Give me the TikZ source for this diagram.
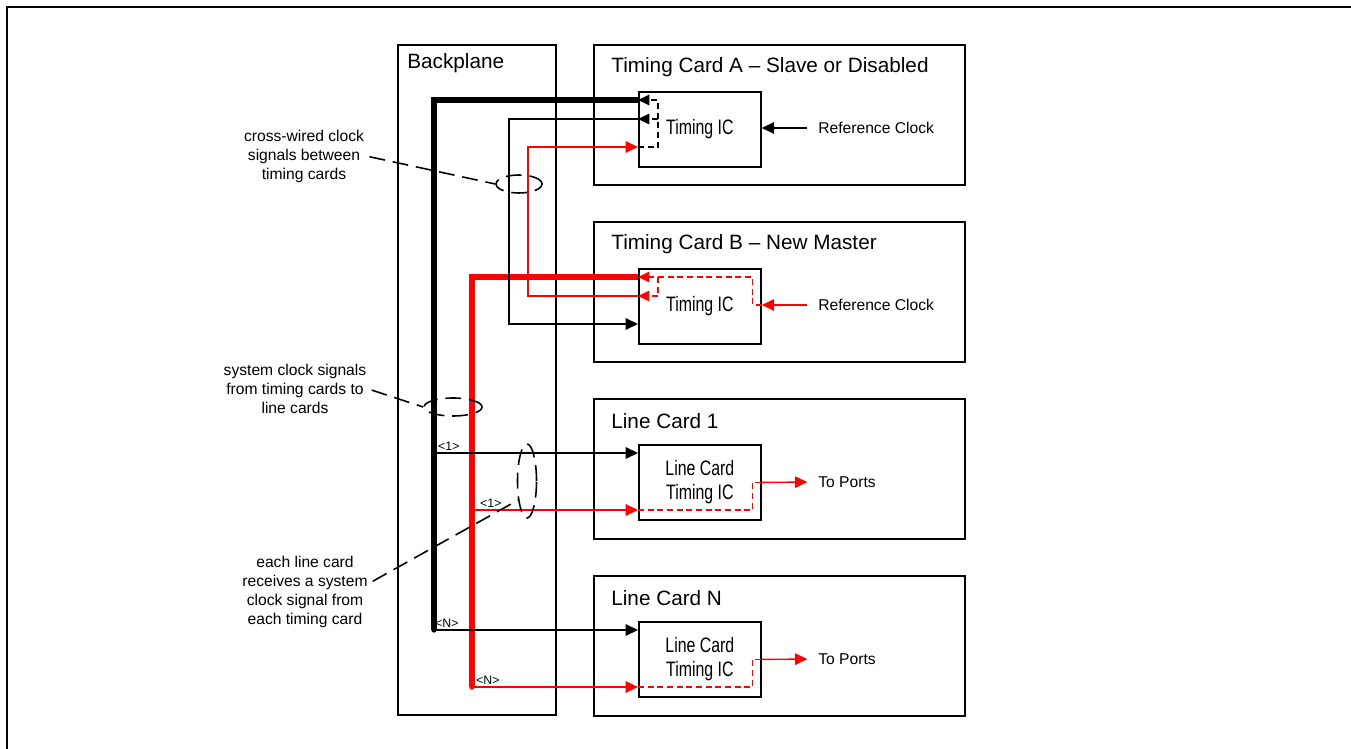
\documentclass[tikz,border=0pt]{standalone}
\usepackage{fontspec}
\setmainfont{Liberation Sans}
\newfontfamily\narrowfont[FakeStretch=0.76]{Liberation Sans}
\usetikzlibrary{arrows.meta,shapes.geometric,calc}

\tikzset{
  card/.style={draw, line width=1pt, anchor=north west, minimum width=7.42cm, minimum height=2.8cm, inner sep=0pt},
  chip/.style={draw, line width=1pt, anchor=north west, minimum width=2.44cm, minimum height=1.5cm,
    align=center, font=\narrowfont\fontsize{11.9}{13.6}\selectfont},
  cardtitle/.style={anchor=west, inner sep=0pt, font=\fontsize{11.8}{14}\selectfont},
  sidetext/.style={anchor=west, inner sep=0pt, font=\fontsize{8.9}{10.8}\selectfont},
  note/.style={align=center, inner sep=1pt, font=\fontsize{8.9}{10.8}\selectfont},
  buslabel/.style={anchor=south west, inner sep=0.5pt, font=\fontsize{7}{8}\selectfont},
  wire/.style={line width=0.8pt},
  trunk/.style={line width=3pt},
  route/.style={line width=0.8pt, dash pattern=on 3.5pt off 2pt},
  routetip/.style={-{Triangle[length=6.5pt,width=6pt]}},
  leader/.style={line width=0.9pt, dash pattern=on 9pt off 4.5pt},
  bundle/.style={draw, ellipse, leader, inner sep=0pt},
}

\begin{document}
\begin{tikzpicture}[x=0.02cm, y=-0.02cm, >={Triangle[length=7pt,width=6.5pt]}]
  \useasboundingbox (0,0) rectangle (1351,749);
  \draw[line width=1pt] (7,749) -- (7,7) -- (1351,7);

  % backplane and cards
  \node[card, minimum width=3.16cm, minimum height=13.4cm] (backplane) at (397,44) {};
  \node[card] (cardA) at (593,44) {};
  \node[card] (cardB) at (593,221) {};
  \node[card] (line1) at (593,398) {};
  \node[card] (lineN) at (593,575) {};
  \node[cardtitle] (bpTitle) at (407,63) {Backplane};
  \node[cardtitle] (titleA) at (611,67) {Timing Card A -- Slave or Disabled};
  \node[cardtitle] (titleB) at (611,244) {Timing Card B -- New Master};
  \node[cardtitle] (title1) at (611,421) {Line Card 1};
  \node[cardtitle] (titleN) at (611,598) {Line Card N};

  \node[chip] (icA) at (638,91) {Timing IC};
  \node[chip] (icB) at (638,268) {Timing IC};
  \node[chip] (lc1) at (638,444) {Line Card\\Timing IC};
  \node[chip] (lcN) at (638,621) {Line Card\\Timing IC};

  \node[sidetext] (refA) at (818,128) {Reference Clock};
  \node[sidetext] (refB) at (818,305) {Reference Clock};
  \node[sidetext] (ports1) at (818,482) {To Ports};
  \node[sidetext] (portsN) at (818,659) {To Ports};

  % wiring points on the backplane
  \coordinate (aBus) at (434,100);
  \coordinate (aEnd) at (434,630);
  \coordinate (tapA1) at (434,453);
  \coordinate (bBus) at (472,277);
  \coordinate (bEnd) at (472,687);
  \coordinate (tapB1) at (472,510);
  \coordinate (xBlk) at (509,119);
  \coordinate (xBlk2) at (509,324);
  \coordinate (xRed) at (528,296);
  \coordinate (xRed2) at (528,147);

  % system clocks
  \draw[trunk] (aBus -| icA.west) -- (aBus) -- (aEnd);
  \draw[trunk, red] (bBus -| icB.west) -- (bBus) -- (bEnd);
  \fill (aEnd) circle (1.5pt);
  \fill[red] (bEnd) circle (1.5pt);
  \draw[wire, ->] (tapA1) -- (tapA1 -| lc1.west);
  \draw[wire, ->] (aEnd) -- (aEnd -| lcN.west);
  \draw[wire, red, ->] (tapB1) -- (tapB1 -| lc1.west);
  \draw[wire, red, ->] (bEnd) -- (bEnd -| lcN.west);
  \node[buslabel] (lblA1) at (437,452) {<1>};
  \node[buslabel] (lblB1) at (479,509) {<1>};
  \node[buslabel] (lblAN) at (434,629) {<N>};
  \node[buslabel] (lblBN) at (475,686) {<N>};

  % cross-wired clocks
  \draw[wire, ->] (xBlk -| icA.west) -- (xBlk) -- (xBlk2) -- (xBlk2 -| icB.west);
  \draw[wire, red, ->] (xRed -| icB.west) -- (xRed) -- (xRed2) -- (xRed2 -| icA.west);

  % reference clocks
  \draw[wire, ->, shorten <=6pt] (refA.west) -- (refA.west -| icA.east);
  \draw[wire, red, ->, shorten <=6pt] (refB.west) -- (refB.west -| icB.east);

  % routing inside the timing ICs
  \draw[route, routetip] (xRed2 -| icA.west) -- ++(20,0) -- ++(0,-47) -- (aBus -| icA.west);
  \draw[route, routetip] ($(xBlk -| icA.west)+(20,0)$) -- (xBlk -| icA.west);
  \draw[route, red, routetip] (refB.west -| icB.east) -- ++(-9,0) |- (bBus -| icB.west);
  \draw[route, red, routetip] ($(bBus -| icB.west)+(20,0)$) |- (xRed -| icB.west);

  % line card outputs
  \draw[route, red] (tapB1 -| lc1.west) -| ($(lc1.east)+(-9,0)$) -- (lc1.east);
  \draw[route, red] (bEnd -| lcN.west) -| ($(lcN.east)+(-9,0)$) -- (lcN.east);
  \draw[wire, red, ->, shorten >=6pt] (lc1.east) -- (ports1.west);
  \draw[wire, red, ->, shorten >=6pt] (lcN.east) -- (portsN.west);

  % notes
  \node[bundle, minimum width=0.92cm, minimum height=0.36cm] (ringX) at (519,184) {};
  \node[bundle, minimum width=1.16cm, minimum height=0.36cm] (ringS) at (453,407) {};
  \node[bundle, minimum width=0.38cm, minimum height=1.48cm] (ringL) at (527,481) {};
  \node[note] (noteX) at (304,156) {cross-wired clock\\signals between\\timing cards};
  \node[note] (noteS) at (295,389) {system clock signals\\from timing cards to\\line cards};
  \node[note] (noteL) at (305,592) {each line card\\receives a system\\clock signal from\\each timing card};
  \draw[leader, shorten <=2pt] (noteX.east) -- (ringX.west);
  \draw[leader, shorten <=2pt] (noteS.east) -- (ringS.west);
  \draw[leader, shorten <=2pt] ($(noteL.east)+(0,-9)$) -- (ringL.245);
\end{tikzpicture}
\end{document}
